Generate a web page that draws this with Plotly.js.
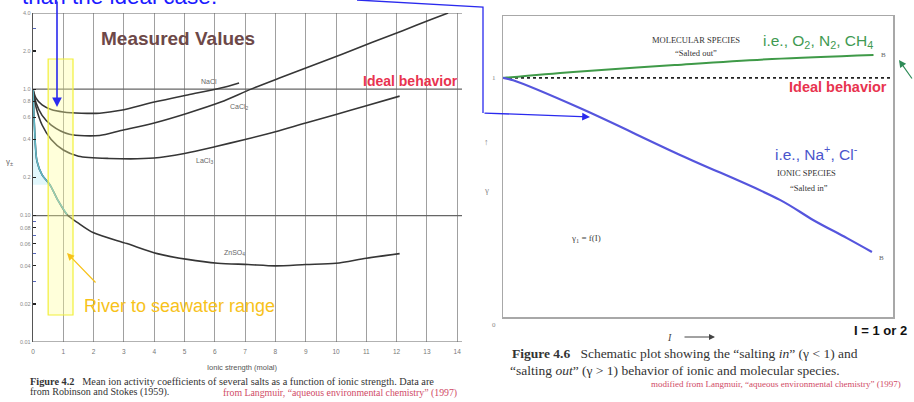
<!DOCTYPE html>
<html><head><meta charset="utf-8">
<script src="https://cdn.plot.ly/plotly-3.0.1.min.js"></script>
<style>html,body{margin:0;padding:0;background:#fff}#c{width:914px;height:402px}</style>
</head><body><div id="c"></div>
<script>
// ---- Left panel data (ionic strength, mean activity coefficient) ----
const naclX  = [0, 0.1, 0.3, 0.6, 1.0, 1.6, 2.2, 2.9, 4.0, 5.1, 6.2, 6.8];
const naclY  = [1.0, 0.85, 0.75, 0.69, 0.66, 0.645, 0.645, 0.68, 0.79, 0.90, 1.02, 1.12];
const cacl2X = [0, 0.1, 0.3, 0.6, 1.2, 2.2, 2.9, 4.0, 5.1, 6.2, 7.2, 8.2, 9.2, 10.2, 11.2, 12.2, 13.2, 13.7];
const cacl2Y = [1.0, 0.78, 0.62, 0.52, 0.44, 0.43, 0.47, 0.54, 0.645, 0.79, 1.0, 1.24, 1.53, 1.89, 2.35, 2.9, 3.6, 4.0];
const lacl3X = [0, 0.1, 0.3, 0.6, 1.0, 1.5, 2.5, 4.0, 5.0, 6.0, 7.0, 8.0, 9.0, 10.0, 11.0, 12.1];
const lacl3Y = [1.0, 0.72, 0.52, 0.40, 0.33, 0.295, 0.283, 0.285, 0.31, 0.35, 0.40, 0.46, 0.54, 0.63, 0.74, 0.88];
const znX    = [0, 0.05, 0.13, 0.3, 0.56, 0.8, 1.12, 1.5, 2.0, 3.1, 4.1, 5.1, 6.1, 7.1, 8.0, 9.0, 10.0, 11.0, 12.1];
const znY    = [1.0, 0.5, 0.27, 0.21, 0.175, 0.135, 0.102, 0.087, 0.073, 0.06, 0.05, 0.045, 0.042, 0.041, 0.040, 0.041, 0.042, 0.046, 0.050];
const saltNames = ['NaCl', 'CaCl<sub>2</sub>', 'LaCl<sub>3</sub>', 'ZnSO<sub>4</sub>'];
const xTicks = [0,1,2,3,4,5,6,7,8,9,10,11,12,13,14];
const yTickVals = [4, 2, 1, 0.8, 0.6, 0.4, 0.2, 0.1, 0.08, 0.06, 0.04, 0.02, 0.01];
const yTickText = ['4.0','2.0','1.0','0.8','0.6','0.4','0.2','0.10','0.08','0.06','0.04','0.02','0.01'];
const yMinorVals = [3, 0.09, 0.07, 0.05, 0.03];
const gridY = [0.01, 0.1, 1, 4];
const riverRange = [0.5, 1.32];

// ---- Right panel data (schematic) ----
const idealX = [0, 1];
const idealY = [1, 1];
const molX = [0, 0.18, 0.44, 0.69, 0.95];
const molY = [1.0, 1.025, 1.054, 1.079, 1.096];
const ionX = [0, 0.026, 0.197, 0.454, 0.71, 0.795, 0.882, 0.946];
const ionY = [1.0, 0.99, 0.874, 0.678, 0.49, 0.406, 0.33, 0.272];

const W = 914, H = 402;
const px = x => x / W;
const py = y => 1 - y / H;
const XMAX = (462 - 33) / 30.3;

const traces = [];
gridY.forEach(v => traces.push({x:[0, XMAX], y:[v, v], xaxis:'x', yaxis:'y', mode:'lines',
  line:{color:'#666', width:1.2}, hoverinfo:'skip', showlegend:false}));
traces.push({x: znX.slice(0,5).concat([0]), y: znY.slice(0,5).concat([znY[4]]), xaxis:'x', yaxis:'y',
  mode:'none', fill:'toself', fillcolor:'rgba(195,240,250,0.5)', hoverinfo:'skip', showlegend:false});
[[naclX,naclY],[cacl2X,cacl2Y],[lacl3X,lacl3Y],[znX,znY]].forEach((d,i) => traces.push({
  x:d[0], y:d[1], xaxis:'x', yaxis:'y', mode:'lines', name:saltNames[i],
  line:{color:'#363636', width:1.6, shape:'spline', smoothing:0.8}, showlegend:false}));
traces.push({x: znX.slice(0,7), y: znY.slice(0,7), xaxis:'x', yaxis:'y', mode:'lines',
  line:{color:'#5fb8c8', width:1.5, shape:'spline', smoothing:0.8}, hoverinfo:'skip', showlegend:false});

traces.push({x:idealX, y:idealY, xaxis:'x2', yaxis:'y2', mode:'lines', line:{color:'#222', width:1.6, dash:'dot'}, showlegend:false});
traces.push({x:molX, y:molY, xaxis:'x2', yaxis:'y2', mode:'lines', line:{color:'#3f9a48', width:2, shape:'spline'}, showlegend:false});
traces.push({x:ionX, y:ionY, xaxis:'x2', yaxis:'y2', mode:'lines', line:{color:'#5555dd', width:2.2, shape:'spline'}, showlegend:false});

function T(text, x, y, size, color, o) {
  o = o || {};
  return {text:text, x:px(x), y:py(y), xref:'paper', yref:'paper', showarrow:false,
    xanchor:o.xa||'center', yanchor:o.ya||'middle',
    font:{size:size, color:color, family:o.fam||'Liberation Sans, Arial, sans-serif'}};
}
function A(hx, hy, ax, ay, color, w) {
  return {text:'', x:px(hx), y:py(hy), xref:'paper', yref:'paper', showarrow:true, ax:ax, ay:ay,
    arrowcolor:color, arrowwidth:w||1.5, arrowhead:2, arrowsize:1.2, standoff:0};
}
const serif = 'Liberation Serif, Times New Roman, serif';
const annotations = [
  T('than the ideal case.', 20, -4, 22.5, '#1b1bff', {xa:'left'}),
  T('<b>Measured Values</b>', 178, 39, 19, '#6d4848'),
  T('<b>Ideal behavior</b>', 410, 81, 14, '#e8334f'),
  T('River to seawater range', 82, 306, 18, '#f7c21a', {xa:'left'}),
  T(saltNames[0], 209, 82, 7, '#666'),
  T(saltNames[1], 239, 107, 7, '#666'),
  T(saltNames[2], 204, 161, 7, '#666'),
  T(saltNames[3], 234, 253, 7, '#666'),
  T('γ<sub>±</sub>', 9, 162, 8, '#666'),
  T('Ionic strength (molal)', 243, 367, 7.5, '#555'),
  T('<b>Figure 4.2</b>   Mean ion activity coefficients of several salts as a function of ionic strength. Data are', 28, 381, 10.3, '#333', {xa:'left', fam:serif}),
  T('from Robinson and Stokes (1959).', 28, 392, 10.1, '#333', {xa:'left', fam:serif}),
  T('from Langmuir, “aqueous environmental chemistry” (1997)', 221, 393, 9.8, '#d04a66', {xa:'left', fam:serif}),
  T('MOLECULAR SPECIES', 696, 40, 8.5, '#333', {fam:serif}),
  T('“Salted out”', 696, 53, 8.5, '#333', {fam:serif}),
  T('i.e., O<sub>2</sub>, N<sub>2</sub>, CH<sub>4</sub>', 818, 41, 15.5, '#3f9a52'),
  T('<b>Ideal behavior</b>', 838, 87, 14.5, '#e8334f'),
  T('i.e., Na<sup>+</sup>, Cl<sup>-</sup>', 816, 153, 15.5, '#4a55cc'),
  T('IONIC SPECIES', 806, 173, 8.5, '#333', {fam:serif}),
  T('“Salted in”', 809, 188, 8.5, '#333', {fam:serif}),
  T('γ<sub>1</sub> = f(I)', 586, 238, 9, '#444', {fam:serif}),
  T('B', 883, 55, 7, '#666', {fam:serif}),
  T('B', 881, 258, 7, '#666', {fam:serif}),
  T('1', 494, 78, 7, '#888', {fam:serif}),
  T('0', 494, 325, 7, '#888', {fam:serif}),
  T('↑', 487, 142, 9, '#888'),
  T('γ', 487, 190, 9, '#888', {fam:serif}),
  T('<i>I</i>', 669, 337, 10, '#444', {fam:serif}),
  T('<b>I = 1 or 2</b>', 880, 330, 13, '#111'),
  T('<b>Figure 4.6</b>   Schematic plot showing the “salting <i>in</i>” (γ < 1) and', 510, 353, 13.5, '#333', {xa:'left', fam:serif}),
  T('“salting <i>out</i>” (γ > 1) behavior of ionic and molecular species.', 508, 370, 13.5, '#333', {xa:'left', fam:serif}),
  T('modified from Langmuir, “aqueous environmental chemistry” (1997)', 903, 384, 9, '#d04a66', {xa:'right', fam:serif}),
  A(57, 107, 0, -112, '#2a2aee', 1.6),
  A(590, 117, -107, -4, '#2a2aee', 1.3),
  A(899, 60, 14, 20, '#2e8b57', 1.2),
  A(67, 253, 30, 31, '#f7c21a', 1.2),
  A(715, 337, -32, 0, '#444', 1)
];

const shapes = [
  {type:'rect', xref:'x', yref:'paper', x0:riverRange[0], x1:riverRange[1], y0:py(315), y1:py(59),
   fillcolor:'rgba(255,255,150,0.35)', line:{color:'#f2f03a', width:1.2}, layer:'above'},
  {type:'path', xref:'paper', yref:'paper',
   path:'M '+px(357)+' '+py(0)+' L '+px(483)+' '+py(7)+' L '+px(483)+' '+py(113),
   line:{color:'#2a2aee', width:1.3}}
];

const layout = {
  width:W, height:H, margin:{l:0,r:0,t:0,b:0}, paper_bgcolor:'#fff', plot_bgcolor:'rgba(0,0,0,0)',
  showlegend:false,
  xaxis:{domain:[px(33), px(462)], range:[0, XMAX], anchor:'y', tickmode:'array', tickvals:xTicks,
    ticktext:xTicks.map(String), showgrid:true, gridcolor:'#a0a0a0', gridwidth:1, zeroline:false,
    showline:false, ticks:'', tickfont:{size:6.5, color:'#777', family:'Liberation Sans, Arial'}, ticklabelstandoff:4},
  yaxis:{domain:[py(342), py(13)], type:'log', range:[-2, Math.log10(4)], anchor:'x', tickmode:'array',
    tickvals:yTickVals, ticktext:yTickText, showgrid:false, zeroline:false, showline:true, linecolor:'#555', linewidth:1.2,
    ticks:'inside', ticklen:3, tickcolor:'#222', tickwidth:1.2,
    minor:{tickmode:'array', tickvals:yMinorVals, ticks:'inside', ticklen:3, tickcolor:'#5566bb', tickwidth:1.2, showgrid:false},
    tickfont:{size:5.5, color:'#888', family:'Liberation Sans, Arial'}},
  xaxis2:{domain:[px(503), px(893)], range:[0,1], anchor:'y2', showgrid:false, zeroline:false, showticklabels:false,
    ticks:'', showline:true, mirror:true, linecolor:'#a8a8a8', linewidth:1.5},
  yaxis2:{domain:[py(317), py(16)], range:[0, 1.259], anchor:'x2', showgrid:false, zeroline:false, showticklabels:false,
    ticks:'', showline:true, mirror:true, linecolor:'#a8a8a8', linewidth:1.5},
  annotations: annotations,
  shapes: shapes
};
Plotly.newPlot('c', traces, layout, {displayModeBar:false, staticPlot:true});
</script></body></html>
